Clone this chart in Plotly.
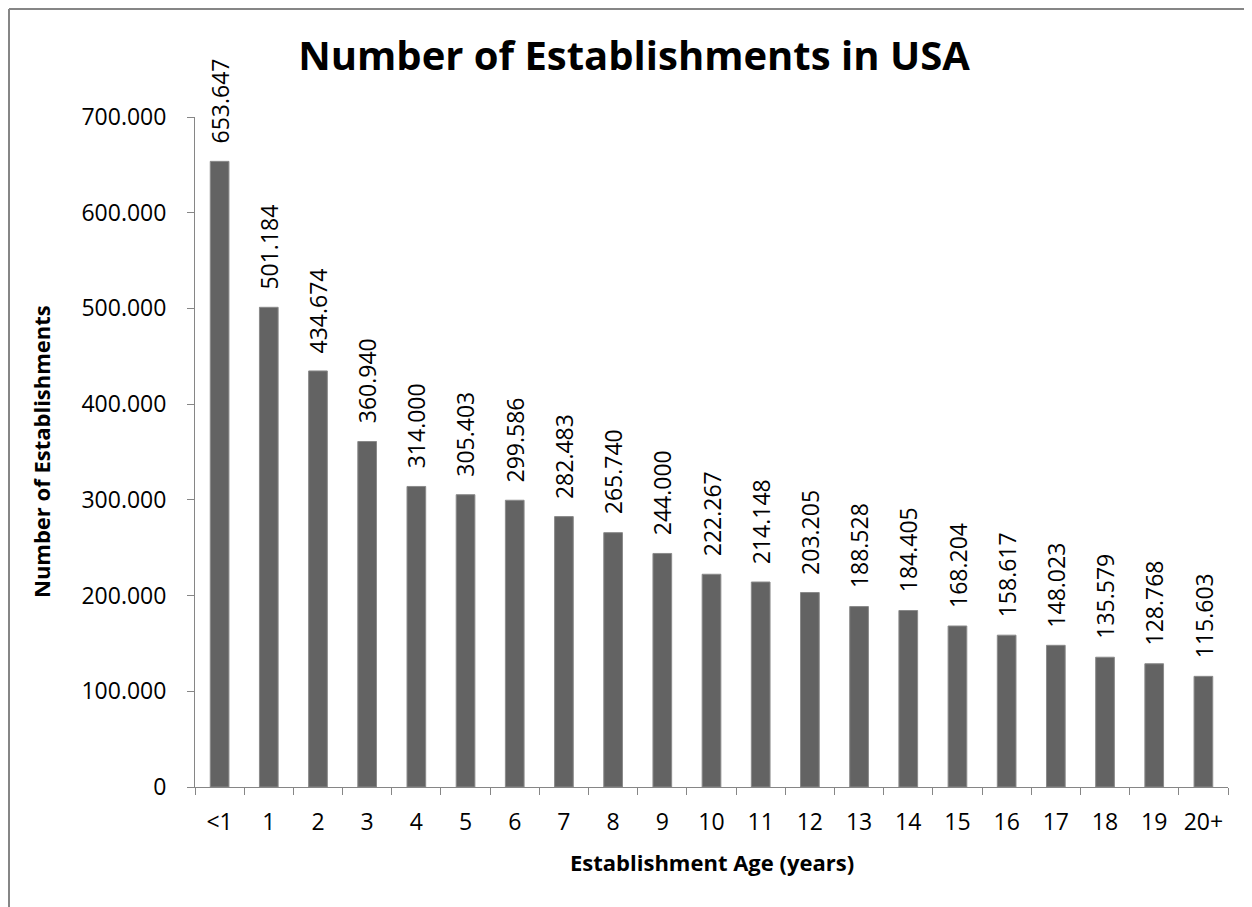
import plotly.graph_objects as go

categories = ["<1", "1", "2", "3", "4", "5", "6", "7", "8", "9", "10",
              "11", "12", "13", "14", "15", "16", "17", "18", "19", "20+"]
establishments = [653647, 501184, 434674, 360940, 314000, 305403, 299586,
                  282483, 265740, 244000, 222267, 214148, 203205, 188528,
                  184405, 168204, 158617, 148023, 135579, 128768, 115603]
y_ticks = [0, 100000, 200000, 300000, 400000, 500000, 600000, 700000]

FONT = "Open Sans"
W, H = 1252, 907
ML, MR, MT, MB = 187, 32, 109, 128
PW, PH = W - ML - MR, H - MT - MB

def fmt(v):
    return f"{v:,}".replace(",", ".")

fig = go.Figure()
fig.add_trace(go.Bar(
    x=categories, y=establishments,
    marker=dict(color="#636363", line=dict(color="#8a8a8a", width=1)),
    width=0.38,
    hoverinfo="x+y",
))

for c, v in zip(categories, establishments):
    fig.add_annotation(x=c, y=v, text=fmt(v), textangle=-90,
                       showarrow=False, xanchor="center", yanchor="bottom",
                       yshift=16, font=dict(family=FONT, size=23, color="#000"))

# axis titles
fig.add_annotation(xref="paper", yref="paper", x=(33 - ML) / PW, y=0.5,
                   text="<b>Number of Establishments</b>", textangle=-90,
                   showarrow=False, xanchor="center", yanchor="middle",
                   font=dict(family=FONT, size=22, color="#000"))
fig.add_annotation(xref="paper", yref="paper", x=0.5, y=0, yshift=-75,
                   text="<b>Establishment Age (years)</b>",
                   showarrow=False, xanchor="center", yanchor="middle",
                   font=dict(family=FONT, size=22, color="#000"))

fig.update_layout(
    width=W, height=H,
    margin=dict(l=ML, r=MR, t=MT, b=MB, autoexpand=False),
    paper_bgcolor="white", plot_bgcolor="white",
    showlegend=False,
    title=dict(text="<b>Number of Establishments in USA</b>", x=0.5, xanchor="center",
               y=1 - 48 / H, yanchor="middle",
               font=dict(family=FONT, size=40, color="#000")),
    font=dict(family=FONT, color="#000"),
    xaxis=dict(
        type="category", showline=True, linecolor="#868686", linewidth=1,
        ticks="outside", tickson="boundaries", ticklen=7, tickcolor="#868686",
        tickfont=dict(family=FONT, size=23, color="#000"),
        ticklabelstandoff=14,
        showgrid=False, zeroline=False,
    ),
    yaxis=dict(
        range=[0, 700000], tickvals=y_ticks,
        ticktext=[fmt(v) for v in y_ticks],
        showline=True, linecolor="#868686", linewidth=1,
        ticks="outside", ticklen=7, tickcolor="#868686",
        tickfont=dict(family=FONT, size=23, color="#000"),
        ticklabelstandoff=16,
        showgrid=False, zeroline=False,
    ),
)

# outer chart border (top and left edges visible)
fig.add_shape(type="line", xref="paper", yref="paper",
              x0=(1 - ML) / PW, x1=(W + 5 - ML) / PW,
              y0=(H - 1 - MB) / PH, y1=(H - 1 - MB) / PH,
              line=dict(color="#868686", width=2))
fig.add_shape(type="line", xref="paper", yref="paper",
              x0=(1 - ML) / PW, x1=(1 - ML) / PW,
              y0=(H - 1 - MB) / PH, y1=(-5 - MB) / PH,
              line=dict(color="#868686", width=2))

fig.write_html("out.html")
